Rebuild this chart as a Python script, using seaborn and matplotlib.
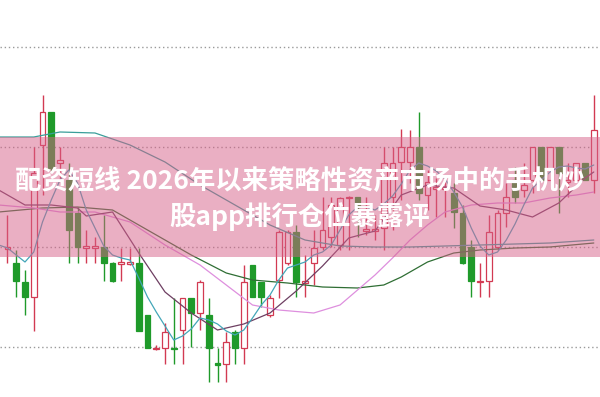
import numpy as np
import matplotlib
matplotlib.use("Agg")
import matplotlib.pyplot as plt
import seaborn as sns

# ---- candle data (price units) ----
opens = [10.98, 10.84, 10.65, 10.50, 12.02, 12.35, 11.84, 11.67, 11.34, 10.99,
         10.99, 11.00, 10.84, 10.83, 10.83, 10.84, 10.32, 9.98, 9.99, 9.99,
         10.17, 10.49, 10.34, 10.32, 9.84, 9.83, 10.15, 9.99, 10.82, 10.65,
         10.32, 10.67, 10.84, 11.15, 10.64, 10.84, 11.00, 11.10, 11.02, 11.49,
         11.50, 11.16, 11.16, 11.19, 11.50, 11.85, 11.85, 12.00, 11.52, 11.58,
         11.58, 11.54, 11.34, 11.00, 10.65, 10.66, 11.00, 11.34, 11.67, 11.57,
         11.67, 12.00, 11.67, 12.00, 11.65, 11.67, 11.84, 11.67]
closes = [11.00, 10.66, 10.50, 11.74, 12.35, 11.79, 11.87, 11.17, 11.00, 11.01,
          11.01, 10.84, 10.66, 10.85, 10.85, 10.16, 9.99, 9.99, 10.15, 9.98,
          10.49, 10.34, 10.65, 9.99, 9.82, 10.05, 9.99, 10.65, 10.50, 10.50,
          10.49, 11.15, 11.15, 10.65, 10.66, 10.99, 11.17, 11.42, 11.49, 11.50,
          11.40, 11.18, 11.18, 11.84, 11.84, 12.00, 12.00, 11.54, 11.65, 11.60,
          11.60, 11.35, 10.84, 10.66, 10.66, 11.15, 11.34, 11.50, 11.50, 11.62,
          12.00, 11.67, 12.00, 11.74, 11.67, 11.84, 11.67, 12.17]
highs = [11.32, 10.97, 10.77, 12.00, 12.52, 12.35, 12.00, 11.84, 11.40, 11.17,
         11.10, 11.32, 10.85, 10.99, 10.99, 10.99, 10.32, 10.02, 10.24, 10.49,
         10.49, 10.49, 10.67, 10.49, 9.99, 10.15, 10.17, 10.82, 10.82, 10.65,
         10.52, 11.17, 11.17, 11.22, 10.92, 11.17, 11.50, 11.50, 11.50, 11.51,
         11.50, 11.50, 11.32, 12.00, 12.00, 12.18, 12.17, 12.35, 11.77, 11.69,
         11.69, 11.64, 11.42, 11.07, 10.84, 11.32, 11.37, 11.64, 11.80, 11.84,
         12.00, 12.00, 12.00, 12.00, 11.84, 11.84, 11.84, 12.52]
lows = [10.84, 10.50, 10.32, 10.16, 11.52, 11.75, 11.67, 10.84, 10.84, 10.84,
        10.84, 10.66, 10.65, 10.66, 10.82, 10.16, 9.99, 9.97, 9.83, 9.83,
        9.83, 10.00, 10.17, 9.65, 9.65, 9.65, 9.83, 9.83, 10.50, 10.40,
        10.30, 10.49, 10.82, 10.50, 10.50, 10.62, 10.97, 11.00, 10.97, 10.97,
        11.10, 11.12, 11.07, 10.97, 11.17, 11.47, 11.64, 11.47, 11.37, 11.30,
        11.30, 11.19, 10.83, 10.50, 10.50, 10.50, 10.97, 11.20, 11.44, 11.50,
        11.54, 11.67, 11.67, 11.34, 11.50, 11.67, 11.67, 11.54]

# ---- moving average lines ----
ma5_idx = list(range(-1, 68))
ma5 = [11.02, 10.99, 10.92, 10.85, 10.95, 11.25, 11.47, 11.67, 11.77, 11.64,
       11.37, 11.19, 11.01, 10.92, 10.89, 10.87, 10.69, 10.50, 10.35, 10.21,
       10.07, 10.11, 10.18, 10.29, 10.27, 10.23, 10.16, 10.12, 10.17, 10.29,
       10.42, 10.52, 10.67, 10.79, 10.82, 10.85, 10.92, 10.95, 11.02, 11.17,
       11.32, 11.40, 11.40, 11.37, 11.43, 11.51, 11.63, 11.77, 11.84, 11.81,
       11.76, 11.68, 11.55, 11.40, 11.19, 11.01, 10.92, 10.95, 11.07, 11.23,
       11.42, 11.59, 11.67, 11.75, 11.80, 11.81, 11.79, 11.78, 11.82]
ma10_idx = [-1, 2, 5, 8, 9, 12, 15, 18, 21, 24, 27, 30, 33, 36, 39, 42, 45,
            48, 51, 54, 57, 60, 63, 66, 67]
ma10 = [11.57, 11.42, 11.42, 11.39, 11.31, 11.35, 10.94, 10.55, 10.34, 10.17,
        10.23, 10.34, 10.56, 10.81, 11.09, 11.16, 11.52, 11.62, 11.59, 11.41,
        11.37, 11.30, 11.44, 11.69, 11.75]
ma20_idx = [-1, 3, 6, 10, 14, 18, 22, 25, 28, 31, 35, 38, 40, 42, 44, 46, 48,
            50, 53, 56, 59, 62, 65, 67]
ma20 = [11.42, 11.39, 11.35, 11.35, 11.25, 11.02, 10.82, 10.62, 10.42, 10.37,
        10.34, 10.42, 10.57, 10.72, 10.89, 11.07, 11.22, 11.35, 11.42, 11.44,
        11.44, 11.49, 11.52, 11.55]
ma30_idx = [-1, 4, 8, 12, 16, 21, 25, 28, 32, 36, 40, 43, 45, 48, 51, 54, 58,
            62, 67]
ma30 = [11.35, 11.39, 11.40, 11.37, 11.17, 10.92, 10.74, 10.67, 10.64, 10.60,
        10.59, 10.62, 10.70, 10.85, 10.94, 10.97, 10.99, 11.00, 11.04]
ma60_idx = [-1, 3, 6, 10, 14, 18, 22, 26, 30, 34, 38, 42, 46, 50, 54, 58, 62, 67]
ma60 = [12.10, 12.10, 12.15, 12.14, 12.02, 11.85, 11.62, 11.42, 11.22, 11.07,
        11.01, 11.00, 11.00, 11.01, 11.02, 11.03, 11.04, 11.07]

grid_levels = [10.0, 11.0, 12.0, 13.0]
title_lines = ["配资短线 2026年以来策略性资产市场中的手机炒", "股app排行仓位暴露评"]

sns.set_style("white")
plt.rcParams['font.family'] = ['Noto Sans CJK SC', 'DejaVu Sans']

fig = plt.figure(figsize=(6, 3.97), dpi=100)
ax = fig.add_axes([0, 0, 1, 1])
ax.set_xlim(-0.857, 67.71)
ax.set_ylim(9.5, 13.47)
ax.set_axis_off()

o = np.array(opens); c = np.array(closes)
h = np.array(highs); l = np.array(lows)
x = np.arange(len(o))
up = c >= o
red = '#d23a52'
green = '#1f9a2a'

for lv in grid_levels:
    ax.axhline(lv, color='#9a9a9a', lw=1.0, ls=(0, (1, 2)), zorder=1)

wick_colors = [red if u else green for u in up]
ax.vlines(x, l, h, colors=wick_colors, lw=1.0, zorder=2)
ax.bar(x[up], np.maximum(c[up] - o[up], 0.008), bottom=o[up], width=0.66,
       facecolor='white', edgecolor=red, linewidth=0.9, zorder=3)
ax.bar(x[~up], np.maximum(o[~up] - c[~up], 0.008), bottom=c[~up], width=0.66,
       facecolor=green, edgecolor=green, linewidth=0.9, zorder=3)

line_specs = [
    (ma60_idx, ma60, '#3a9e9a'),
    (ma30_idx, ma30, '#2f6e34'),
    (ma20_idx, ma20, '#de8fde'),
    (ma10_idx, ma10, '#6e3f62'),
    (ma5_idx, ma5, '#43a6b8'),
]
for xi, yi, col in line_specs:
    sns.lineplot(x=xi, y=yi, ax=ax, color=col, lw=0.9, legend=False, zorder=4)

ax.axhspan(10.90, 12.10, color='#d76189', alpha=0.5, lw=0, zorder=5)

ax.text(0.5, 1 - 181 / 397, title_lines[0], transform=ax.transAxes,
        ha='center', va='center', color='white', fontsize=19,
        fontweight='bold', zorder=10)
ax.text(0.5, 1 - 217 / 397, title_lines[1], transform=ax.transAxes,
        ha='center', va='center', color='white', fontsize=19,
        fontweight='bold', zorder=10)

fig.savefig('out.png', dpi=100)
